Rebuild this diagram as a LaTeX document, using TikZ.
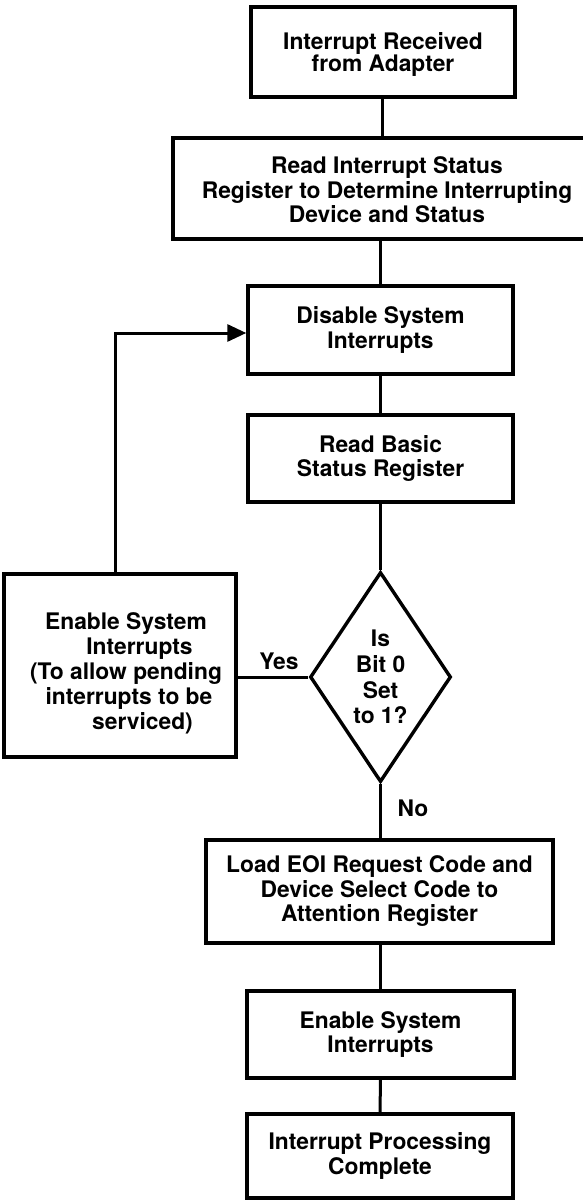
\documentclass[tikz,border=0pt]{standalone}
\usepackage{fontspec}
\setmainfont{TeX Gyre Heros}
\usetikzlibrary{shapes.geometric,arrows.meta,calc}
\begin{document}
\begin{tikzpicture}[x=1pt,y=-1pt,
  txt/.style={font=\fontsize{22.8}{24.5}\selectfont\bfseries},
  box/.style={txt,draw,line width=3.4pt,rectangle,inner sep=0pt,align=center},
  decision/.style={txt,draw,line width=3.4pt,diamond,aspect=0.67,inner sep=0pt,
    minimum width=141pt,minimum height=210pt,align=center,
    font=\fontsize{22.8}{25.6}\selectfont\bfseries},
  conn/.style={line width=3pt},
  lbl/.style={txt,inner sep=0pt}]
\useasboundingbox (0,0) rectangle (583,1201);
\node[box,minimum width=264pt,minimum height=90pt,font=\fontsize{22.8}{22.5}\selectfont\bfseries] (b1) at (383,52)
  {\rule{0pt}{22pt}Interrupt Received\\from Adapter};
\node[box,minimum width=428pt,minimum height=101pt] (b2) at (387,188.5)
  {\rule{0pt}{20pt}Read Interrupt Status\\Register to Determine Interrupting\\Device and Status};
\node[box,minimum width=265pt,minimum height=88pt] (b3) at (380.5,330)
  {Disable System\\Interrupts};
\node[box,minimum width=265pt,minimum height=87pt] (b4) at (380.5,458.5)
  {Read Basic\\Status Register};
\node[decision] (d) at (380.5,677) {Is\\Bit 0\\Set\\to 1?};
\node[box,minimum width=232pt,minimum height=183pt,font=\fontsize{22.8}{25}\selectfont\bfseries] (b5) at (120,665.5)
  {\rule{0pt}{32.6pt}\hspace*{12pt}Enable System\\\hspace*{39pt}Interrupts\\\hspace*{12pt}(To allow pending\\\hspace*{18pt}interrupts to be\\\hspace*{45pt}serviced)};
\node[box,minimum width=347pt,minimum height=103pt] (b6) at (379.5,891.5)
  {Load EOI Request Code and\\Device Select Code to\\Attention Register};
\node[box,minimum width=267pt,minimum height=87pt] (b7) at (380.5,1034.5)
  {Enable System\\Interrupts};
\node[box,minimum width=266pt,minimum height=84pt] (b8) at (380,1156)
  {Interrupt Processing\\Complete};
\node[lbl] (yes) at (279,661) {Yes};
\node[lbl] (no) at (413,808) {No};
\draw[conn] (b2.north -| 382,0) -- (b1.south -| 382,0);
\draw[conn] (b3.north) -- (b3.north |- b2.south);
\draw[conn] (b3.south) -- (b4.north);
\draw[conn] (b4.south) -- (d.north);
\draw[conn] (d.south) -- (d.south |- b6.north);
\draw[conn] (b7.north) -- (b7.north |- b6.south);
\draw[conn] (b7.south) -- (b8.north);
\draw[conn] (d.west) -- (d.west -| b5.east);
\draw[conn,-{Triangle[length=19pt,width=17pt]}] ($(b5.north)+(-5,0)$) |- ($(b3.west)+(0,3)$);
\end{tikzpicture}
\end{document}
